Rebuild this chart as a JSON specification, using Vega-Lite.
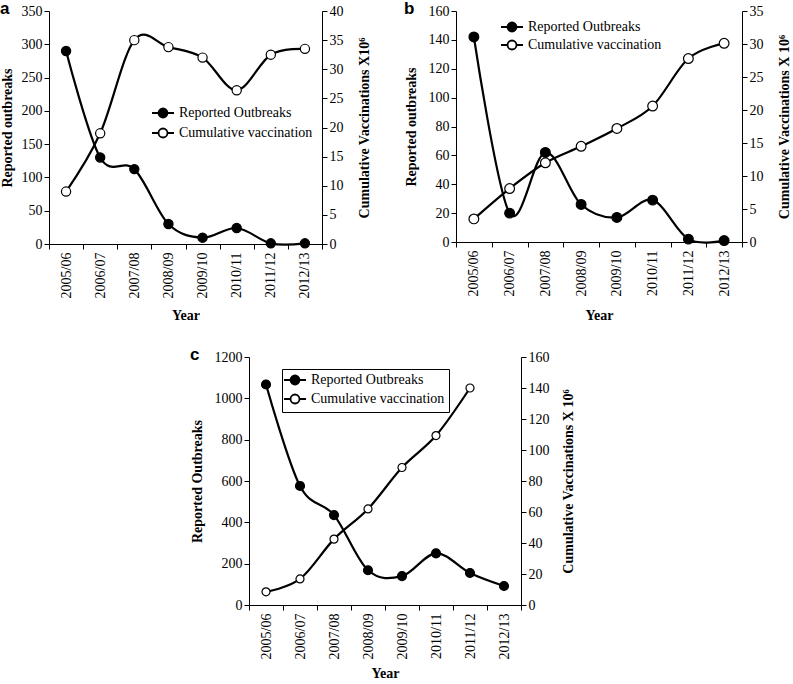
{
  "$schema": "https://vega.github.io/schema/vega-lite/v6.json",
  "padding": {"left": 0, "top": 0, "right": 2, "bottom": 2},
  "background": "white",
  "datasets": {
    "a": [
      {"year": "2005/06", "series": "Reported Outbreaks", "value": 290},
      {"year": "2006/07", "series": "Reported Outbreaks", "value": 130},
      {"year": "2007/08", "series": "Reported Outbreaks", "value": 112.5},
      {"year": "2008/09", "series": "Reported Outbreaks", "value": 30},
      {"year": "2009/10", "series": "Reported Outbreaks", "value": 9.5},
      {"year": "2010/11", "series": "Reported Outbreaks", "value": 24},
      {"year": "2011/12", "series": "Reported Outbreaks", "value": 1},
      {"year": "2012/13", "series": "Reported Outbreaks", "value": 1},
      {"year": "2005/06", "series": "Cumulative vaccination", "value": 9.0},
      {"year": "2006/07", "series": "Cumulative vaccination", "value": 19.0},
      {"year": "2007/08", "series": "Cumulative vaccination", "value": 35.0},
      {"year": "2008/09", "series": "Cumulative vaccination", "value": 33.8},
      {"year": "2009/10", "series": "Cumulative vaccination", "value": 32.0},
      {"year": "2010/11", "series": "Cumulative vaccination", "value": 26.4},
      {"year": "2011/12", "series": "Cumulative vaccination", "value": 32.5},
      {"year": "2012/13", "series": "Cumulative vaccination", "value": 33.5}
    ],
    "b": [
      {"year": "2005/06", "series": "Reported Outbreaks", "value": 142},
      {"year": "2006/07", "series": "Reported Outbreaks", "value": 20},
      {"year": "2007/08", "series": "Reported Outbreaks", "value": 62},
      {"year": "2008/09", "series": "Reported Outbreaks", "value": 26},
      {"year": "2009/10", "series": "Reported Outbreaks", "value": 17},
      {"year": "2010/11", "series": "Reported Outbreaks", "value": 29},
      {"year": "2011/12", "series": "Reported Outbreaks", "value": 2},
      {"year": "2012/13", "series": "Reported Outbreaks", "value": 1},
      {"year": "2005/06", "series": "Cumulative vaccination", "value": 3.5},
      {"year": "2006/07", "series": "Cumulative vaccination", "value": 8.1},
      {"year": "2007/08", "series": "Cumulative vaccination", "value": 12.0},
      {"year": "2008/09", "series": "Cumulative vaccination", "value": 14.5},
      {"year": "2009/10", "series": "Cumulative vaccination", "value": 17.2},
      {"year": "2010/11", "series": "Cumulative vaccination", "value": 20.6},
      {"year": "2011/12", "series": "Cumulative vaccination", "value": 27.8},
      {"year": "2012/13", "series": "Cumulative vaccination", "value": 30.1}
    ],
    "c": [
      {"year": "2005/06", "series": "Reported Outbreaks", "value": 1067},
      {"year": "2006/07", "series": "Reported Outbreaks", "value": 576},
      {"year": "2007/08", "series": "Reported Outbreaks", "value": 435},
      {"year": "2008/09", "series": "Reported Outbreaks", "value": 168},
      {"year": "2009/10", "series": "Reported Outbreaks", "value": 140},
      {"year": "2010/11", "series": "Reported Outbreaks", "value": 250},
      {"year": "2011/12", "series": "Reported Outbreaks", "value": 155},
      {"year": "2012/13", "series": "Reported Outbreaks", "value": 92},
      {"year": "2005/06", "series": "Cumulative vaccination", "value": 8.5},
      {"year": "2006/07", "series": "Cumulative vaccination", "value": 16.8},
      {"year": "2007/08", "series": "Cumulative vaccination", "value": 42.5},
      {"year": "2008/09", "series": "Cumulative vaccination", "value": 62},
      {"year": "2009/10", "series": "Cumulative vaccination", "value": 88.7},
      {"year": "2010/11", "series": "Cumulative vaccination", "value": 109.3},
      {"year": "2011/12", "series": "Cumulative vaccination", "value": 140}
    ],
    "empty": []
  },
  "vconcat": [
    {
      "hconcat": [
        {
          "data": {"name": "a"},
          "width": 273, "height": 233,
          "title": {"text": "a", "anchor": "start", "frame": "bounds", "font": "Liberation Sans", "fontSize": 17, "fontWeight": "bold", "color": "black", "offset": -14},
          "encoding": {
            "x": {"field": "year", "type": "ordinal", "bandPosition": 0.5,
              "scale": {"type": "band", "paddingInner": 0, "paddingOuter": 0},
              "axis": {"title": "Year", "labelAngle": 270, "tickBand": "extent", "labelPadding": 3, "titlePadding": 11}}
          },
          "layer": [
            {
              "transform": [{"filter": "datum.series === 'Reported Outbreaks'"}],
              "encoding": {"y": {"field": "value", "type": "quantitative", "scale": {"domain": [0, 350], "nice": false},
                "axis": {"orient": "left", "title": "Reported outbreaks", "values": [0, 50, 100, 150, 200, 250, 300, 350], "format": "d", "titlePadding": 7}}},
              "layer": [
                {"mark": {"type": "line", "interpolate": "cardinal", "stroke": "black", "strokeWidth": 2.2}},
                {"mark": {"type": "point", "shape": "circle", "filled": true, "size": 85, "stroke": "black", "strokeWidth": 1.2, "opacity": 1},
                  "encoding": {"fill": {"field": "series", "type": "nominal", "scale": {"domain": ["Reported Outbreaks", "Cumulative vaccination"], "range": ["black", "white"]},
                    "legend": {"orient": "none", "legendX": 107, "legendY": 95, "title": null, "padding": 0, "rowPadding": 2}}}}
              ]
            },
            {
              "transform": [{"filter": "datum.series === 'Cumulative vaccination'"}],
              "encoding": {"y": {"field": "value", "type": "quantitative", "scale": {"domain": [0, 40], "nice": false},
                "axis": {"orient": "right", "title": "Cumulative Vaccinations X10⁶", "titleAngle": 270, "titleBaseline": "top", "titlePadding": 14, "values": [0, 5, 10, 15, 20, 25, 30, 35, 40]}}},
              "layer": [
                {"mark": {"type": "line", "interpolate": "cardinal", "stroke": "black", "strokeWidth": 2.2}},
                {"mark": {"type": "point", "shape": "circle", "filled": true, "size": 85, "stroke": "black", "strokeWidth": 1.2, "opacity": 1},
                  "encoding": {"fill": {"field": "series", "type": "nominal", "scale": {"domain": ["Reported Outbreaks", "Cumulative vaccination"], "range": ["black", "white"]},
                    "legend": {"orient": "none", "legendX": 107, "legendY": 95, "title": null, "padding": 0, "rowPadding": 2}}}}
              ]
            }
          ],
          "resolve": {"scale": {"y": "independent"}}
        },
        {
          "data": {"name": "b"},
          "width": 286, "height": 231,
          "title": {"text": "b", "anchor": "start", "frame": "bounds", "font": "Liberation Sans", "fontSize": 17, "fontWeight": "bold", "color": "black", "offset": -14},
          "encoding": {
            "x": {"field": "year", "type": "ordinal", "bandPosition": 0.5,
              "scale": {"type": "band", "paddingInner": 0, "paddingOuter": 0},
              "axis": {"title": "Year", "labelAngle": 270, "tickBand": "extent", "labelPadding": 3, "titlePadding": 13}}
          },
          "layer": [
            {
              "transform": [{"filter": "datum.series === 'Reported Outbreaks'"}],
              "encoding": {"y": {"field": "value", "type": "quantitative", "scale": {"domain": [0, 160], "nice": false},
                "axis": {"orient": "left", "title": "Reported outbreaks", "values": [0, 20, 40, 60, 80, 100, 120, 140, 160], "format": "d", "titlePadding": 10}}},
              "layer": [
                {"mark": {"type": "line", "interpolate": "cardinal", "stroke": "black", "strokeWidth": 2.2}},
                {"mark": {"type": "point", "shape": "circle", "filled": true, "size": 95, "stroke": "black", "strokeWidth": 1.2, "opacity": 1},
                  "encoding": {"fill": {"field": "series", "type": "nominal", "scale": {"domain": ["Reported Outbreaks", "Cumulative vaccination"], "range": ["black", "white"]},
                    "legend": {"orient": "none", "legendX": 49, "legendY": 9, "title": null, "padding": 0, "rowPadding": 0}}}}
              ]
            },
            {
              "transform": [{"filter": "datum.series === 'Cumulative vaccination'"}],
              "encoding": {"y": {"field": "value", "type": "quantitative", "scale": {"domain": [0, 35], "nice": false},
                "axis": {"orient": "right", "title": "Cumulative Vaccinations  X 10⁶", "titleAngle": 270, "titleBaseline": "top", "titlePadding": 14, "values": [0, 5, 10, 15, 20, 25, 30, 35]}}},
              "layer": [
                {"mark": {"type": "line", "interpolate": "cardinal", "stroke": "black", "strokeWidth": 2.2}},
                {"mark": {"type": "point", "shape": "circle", "filled": true, "size": 95, "stroke": "black", "strokeWidth": 1.2, "opacity": 1},
                  "encoding": {"fill": {"field": "series", "type": "nominal", "scale": {"domain": ["Reported Outbreaks", "Cumulative vaccination"], "range": ["black", "white"]},
                    "legend": {"orient": "none", "legendX": 49, "legendY": 9, "title": null, "padding": 0, "rowPadding": 0}}}}
              ]
            }
          ],
          "resolve": {"scale": {"y": "independent"}}
        }
      ],
      "spacing": 33,
      "resolve": {"scale": {"fill": "independent"}, "legend": {"fill": "independent"}}
    },
    {
      "hconcat": [
        {
          "data": {"name": "empty"},
          "width": 8, "height": 1,
          "mark": {"type": "point", "opacity": 0}
        },
        {
          "data": {"name": "c"},
          "width": 272, "height": 248,
          "title": {"text": "c", "anchor": "start", "frame": "bounds", "font": "Liberation Sans", "fontSize": 17, "fontWeight": "bold", "color": "black", "offset": -14},
          "encoding": {
            "x": {"field": "year", "type": "ordinal", "bandPosition": 0.5,
              "scale": {"type": "band", "paddingInner": 0, "paddingOuter": 0},
              "axis": {"title": "Year", "labelAngle": 270, "tickBand": "extent", "labelPadding": 3, "titlePadding": 8}}
          },
          "layer": [
            {
              "transform": [{"filter": "datum.series === 'Reported Outbreaks'"}],
              "encoding": {"y": {"field": "value", "type": "quantitative", "scale": {"domain": [0, 1200], "nice": false},
                "axis": {"orient": "left", "title": "Reported Outbreaks", "values": [0, 200, 400, 600, 800, 1000, 1200], "format": "d", "titlePadding": 10}}},
              "layer": [
                {"mark": {"type": "line", "interpolate": "cardinal", "stroke": "black", "strokeWidth": 2.2}},
                {"mark": {"type": "point", "shape": "circle", "filled": true, "size": 80, "stroke": "black", "strokeWidth": 1.2, "opacity": 1},
                  "encoding": {"color": {"field": "series", "type": "nominal", "scale": {"domain": ["Reported Outbreaks", "Cumulative vaccination"], "range": ["black", "white"]},
                    "legend": {"orient": "none", "legendX": 233, "legendY": 358, "title": null, "padding": 4, "symbolOffset": 2, "rowPadding": 1, "strokeColor": "black", "fillColor": "white", "symbolStrokeColor": "black"}}}}
              ]
            },
            {
              "transform": [{"filter": "datum.series === 'Cumulative vaccination'"}],
              "encoding": {"y": {"field": "value", "type": "quantitative", "scale": {"domain": [0, 160], "nice": false},
                "axis": {"orient": "right", "title": "Cumulative Vaccinations  X 10⁶", "titleAngle": 270, "titleBaseline": "top", "titlePadding": 12, "values": [0, 20, 40, 60, 80, 100, 120, 140, 160]}}},
              "layer": [
                {"mark": {"type": "line", "interpolate": "cardinal", "stroke": "black", "strokeWidth": 2.2}},
                {"mark": {"type": "point", "shape": "circle", "filled": true, "size": 64, "stroke": "black", "strokeWidth": 1.2, "opacity": 1},
                  "encoding": {"color": {"field": "series", "type": "nominal", "scale": {"domain": ["Reported Outbreaks", "Cumulative vaccination"], "range": ["black", "white"]},
                    "legend": {"orient": "none", "legendX": 233, "legendY": 358, "title": null, "padding": 4, "symbolOffset": 2, "rowPadding": 1, "strokeColor": "black", "fillColor": "white", "symbolStrokeColor": "black"}}}}
              ]
            }
          ],
          "resolve": {"scale": {"y": "independent"}}
        }
      ],
      "spacing": 133,
      "resolve": {"scale": {"fill": "independent"}, "legend": {"fill": "independent"}}
    }
  ],
  "spacing": 23,
  "resolve": {"scale": {"fill": "independent"}, "legend": {"fill": "independent"}},
  "config": {
    "view": {"stroke": null},
    "font": "Liberation Serif",
    "axis": {
      "grid": false, "domainColor": "black", "domainWidth": 1, "tickColor": "black", "tickWidth": 1, "tickSize": 5,
      "labelColor": "black", "labelFont": "Liberation Serif", "labelFontSize": 14,
      "titleColor": "black", "titleFont": "Liberation Serif", "titleFontSize": 14, "titleFontWeight": "bold"
    },
    "legend": {
      "labelFont": "Liberation Serif", "labelFontSize": 14, "labelColor": "black", "labelOffset": 9,
      "symbolType": "M-2.2,0L-0.9,0M0.9,0L2.2,0M-0.9,0A0.9,0.9,0,1,1,0.9,0A0.9,0.9,0,1,1,-0.9,0Z",
      "symbolSize": 100, "symbolStrokeColor": "black", "symbolStrokeWidth": 1.8, "strokeWidth": 1
    }
  }
}
